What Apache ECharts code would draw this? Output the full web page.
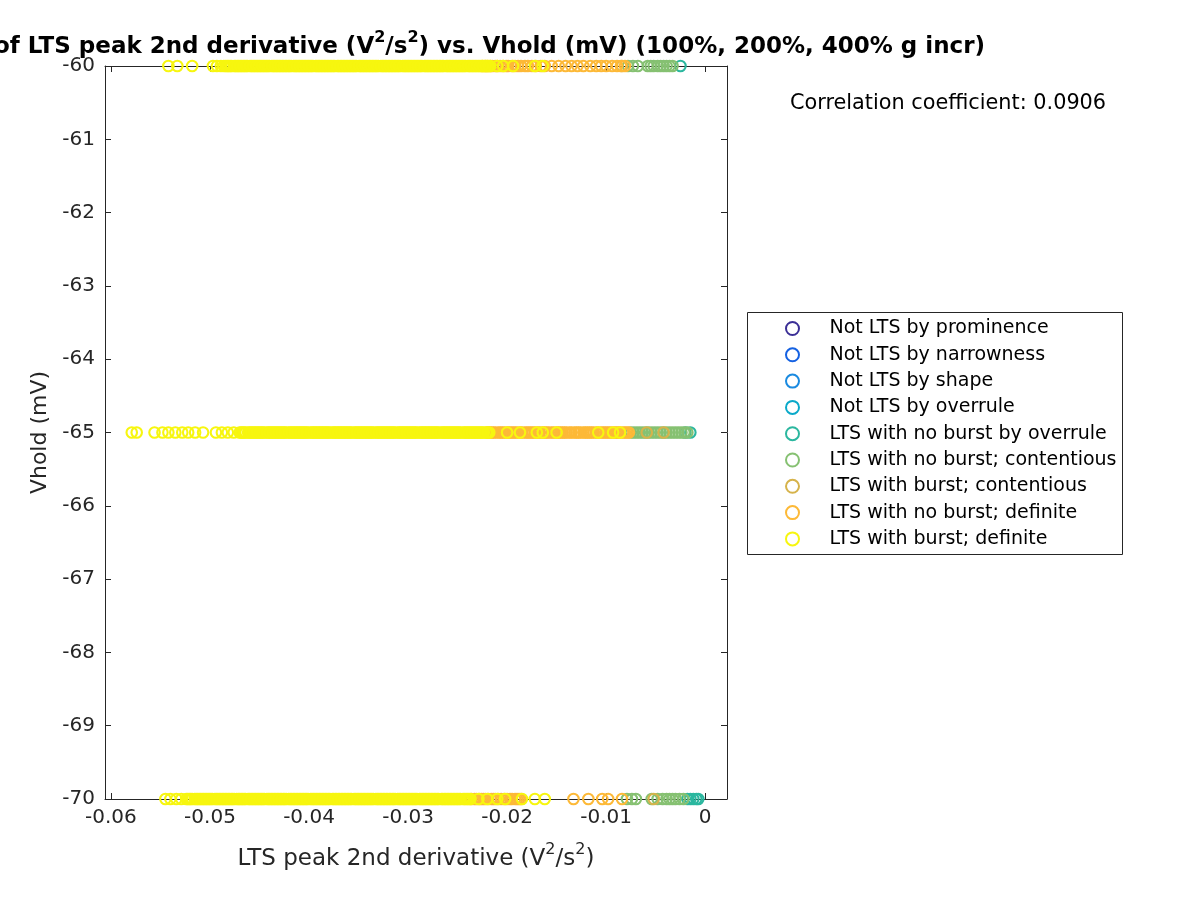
<!DOCTYPE html>
<html>
<head>
<meta charset="utf-8">
<script src="https://cdn.jsdelivr.net/npm/echarts@6/dist/echarts.min.js"></script>
<style>html,body{margin:0;padding:0;background:#fff}#c{width:1200px;height:900px}</style>
</head>
<body>
<div id="c"></div>
<script>
// ---- data ----
const categories = [
  'Not LTS by prominence', 'Not LTS by narrowness', 'Not LTS by shape', 'Not LTS by overrule',
  'LTS with no burst by overrule', 'LTS with no burst; contentious', 'LTS with burst; contentious',
  'LTS with no burst; definite', 'LTS with burst; definite'
];
const colors = ['#3b2f96', '#1461e2', '#1a8ae0', '#0aa9c9', '#2bb79f', '#86c172', '#d6b34b', '#fdb937', '#f7f60f'];
const vholdLevels = [-60, -65, -70];
const xTicks = [-0.06, -0.05, -0.04, -0.03, -0.02, -0.01, 0];
const yTicks = [-70, -69, -68, -67, -66, -65, -64, -63, -62, -61, -60];

// LTS with no burst by overrule
const teal60 = [-0.0025];
const teal65 = [-0.0020, -0.0015];
const teal70 = [-0.0018, -0.0015, -0.0012, -0.0009, -0.0007];
// LTS with no burst; contentious
const green60 = [-0.0078, -0.0073, -0.0068, -0.0058, -0.0055, -0.0052, -0.0048, -0.0045, -0.0042, -0.0039, -0.0036, -0.0033];
const green65 = [-0.0075, -0.0072, -0.0069, -0.0066, -0.0063, -0.0060, -0.0057, -0.0054, -0.0051, -0.0048, -0.0045, -0.0042, -0.0039, -0.0036, -0.0033, -0.0030, -0.0027, -0.0024, -0.0021, -0.0018];
const green70 = [-0.0079, -0.0074, -0.0070, -0.0054, -0.0048, -0.0043, -0.0039, -0.0036, -0.0033, -0.0030, -0.0026, -0.0022];
// LTS with burst; contentious
const khaki60 = [-0.0084];
const khaki65 = [-0.0059, -0.0042];
const khaki70 = [-0.0052];
// LTS with no burst; definite
const orange60 = [-0.0225, -0.0222, -0.0220, -0.0217, -0.0215, -0.0212, -0.0210, -0.0207, -0.0204, -0.0201, -0.0199, -0.0195, -0.0192, -0.0189, -0.0186, -0.0182, -0.0179, -0.0175, -0.0171, -0.0166, -0.0162, -0.0155, -0.0148, -0.0141, -0.0135, -0.0129, -0.0123, -0.0116, -0.0110, -0.0105, -0.0100, -0.0094, -0.0089, -0.0085, -0.0081];
const orange65 = [-0.0220, -0.0218, -0.0216, -0.0214, -0.0212, -0.0209, -0.0207, -0.0205, -0.0203, -0.0200, -0.0198, -0.0196, -0.0194, -0.0192, -0.0190, -0.0187, -0.0185, -0.0182, -0.0180, -0.0178, -0.0176, -0.0174, -0.0172, -0.0169, -0.0167, -0.0164, -0.0162, -0.0160, -0.0158, -0.0155, -0.0153, -0.0150, -0.0148, -0.0146, -0.0144, -0.0142, -0.0140, -0.0137, -0.0135, -0.0132, -0.0130, -0.0128, -0.0126, -0.0123, -0.0121, -0.0119, -0.0117, -0.0115, -0.0113, -0.0110, -0.0108, -0.0105, -0.0103, -0.0101, -0.0099, -0.0097, -0.0095, -0.0092, -0.0090, -0.0088, -0.0086, -0.0083, -0.0081, -0.0079, -0.0077];
const orange70 = [-0.0236, -0.0233, -0.0231, -0.0228, -0.0226, -0.0224, -0.0222, -0.0219, -0.0216, -0.0214, -0.0212, -0.0209, -0.0206, -0.0203, -0.0200, -0.0197, -0.0195, -0.0192, -0.0190, -0.0188, -0.0186, -0.0133, -0.0118, -0.0104, -0.0098, -0.0084];
// LTS with burst; definite
const yellow60 = [-0.0542, -0.0533, -0.0518, -0.0497, -0.0493, -0.0489, -0.0486,
  -0.0484, -0.0481, -0.0478, -0.0474, -0.0471, -0.0468, -0.0465, -0.0462, -0.0458, -0.0455, -0.0452, -0.0449, -0.0446, -0.0443, -0.0440, -0.0436, -0.0433, -0.0430, -0.0427, -0.0424, -0.0421, -0.0418, -0.0414, -0.0411, -0.0408, -0.0405, -0.0402, -0.0399, -0.0396, -0.0392, -0.0389, -0.0386, -0.0383, -0.0380, -0.0377, -0.0374, -0.0370, -0.0367, -0.0364, -0.0361, -0.0358, -0.0355, -0.0352, -0.0348, -0.0345, -0.0342, -0.0339, -0.0336, -0.0333, -0.0330, -0.0326, -0.0323, -0.0320, -0.0317, -0.0314, -0.0311, -0.0308, -0.0304, -0.0301, -0.0298, -0.0295, -0.0292, -0.0289, -0.0286, -0.0282, -0.0279, -0.0276, -0.0273, -0.0270, -0.0267, -0.0264, -0.0260, -0.0257, -0.0254, -0.0251, -0.0248, -0.0245, -0.0242, -0.0238, -0.0235, -0.0232, -0.0229, -0.0226, -0.0223, -0.0220, -0.0217,
  -0.0210, -0.0204, -0.0194, -0.0172, -0.0164];
const yellow65 = [-0.0579, -0.0574, -0.0556, -0.0548, -0.0542, -0.0535, -0.0528, -0.0522, -0.0515, -0.0507, -0.0494, -0.0488, -0.0482, -0.0476,
  -0.0470, -0.0467, -0.0464, -0.0460, -0.0457, -0.0454, -0.0451, -0.0448, -0.0445, -0.0441, -0.0438, -0.0435, -0.0432, -0.0429, -0.0426, -0.0423, -0.0419, -0.0416, -0.0413, -0.0410, -0.0407, -0.0404, -0.0401, -0.0397, -0.0394, -0.0391, -0.0388, -0.0385, -0.0382, -0.0379, -0.0375, -0.0372, -0.0369, -0.0366, -0.0363, -0.0360, -0.0357, -0.0353, -0.0350, -0.0347, -0.0344, -0.0341, -0.0338, -0.0335, -0.0331, -0.0328, -0.0325, -0.0322, -0.0319, -0.0316, -0.0313, -0.0309, -0.0306, -0.0303, -0.0300, -0.0297, -0.0294, -0.0291, -0.0287, -0.0284, -0.0281, -0.0278, -0.0275, -0.0272, -0.0269, -0.0265, -0.0262, -0.0259, -0.0256, -0.0253, -0.0250, -0.0247, -0.0243, -0.0240, -0.0237, -0.0234, -0.0231, -0.0228, -0.0225, -0.0221, -0.0218,
  -0.0200, -0.0187, -0.0170, -0.0164, -0.0150, -0.0108, -0.0093, -0.0086];
const yellow70 = [-0.0545, -0.0540, -0.0534, -0.0529,
  -0.0524, -0.0521, -0.0518, -0.0514, -0.0511, -0.0508, -0.0505, -0.0502, -0.0499, -0.0495, -0.0492, -0.0489, -0.0486, -0.0483, -0.0480, -0.0477, -0.0473,
  -0.0470, -0.0467, -0.0464, -0.0460, -0.0457, -0.0454, -0.0451, -0.0448, -0.0445, -0.0441, -0.0438, -0.0435, -0.0432, -0.0429, -0.0426, -0.0423, -0.0419, -0.0416, -0.0413, -0.0410, -0.0407, -0.0404, -0.0401, -0.0397, -0.0394, -0.0391, -0.0388, -0.0385, -0.0382, -0.0379, -0.0375, -0.0372, -0.0369, -0.0366, -0.0363, -0.0360, -0.0357, -0.0353, -0.0350, -0.0347, -0.0344, -0.0341, -0.0338, -0.0335, -0.0331, -0.0328, -0.0325, -0.0322, -0.0319, -0.0316, -0.0313, -0.0309, -0.0306, -0.0303, -0.0300, -0.0297, -0.0294, -0.0291, -0.0287, -0.0284, -0.0281, -0.0278, -0.0275, -0.0272, -0.0269, -0.0265, -0.0262, -0.0259, -0.0256, -0.0253, -0.0250, -0.0247, -0.0243, -0.0240, -0.0237,
  -0.0229, -0.0220, -0.0210, -0.0202, -0.0185, -0.0172, -0.0162];
// extra points filling the dense yellow bands
const yellow60b = [-0.04825, -0.04795, -0.04755, -0.04725, -0.04695, -0.04665, -0.04635, -0.04595, -0.04565, -0.04535, -0.04505, -0.04475, -0.04445, -0.04415, -0.04375, -0.04345, -0.04315, -0.04285, -0.04255, -0.04225, -0.04195, -0.04155, -0.04125, -0.04095, -0.04065, -0.04035, -0.04005, -0.03975, -0.03935, -0.03905, -0.03875, -0.03845, -0.03815, -0.03785, -0.03755, -0.03715, -0.03685, -0.03655, -0.03625, -0.03595, -0.03565, -0.03535, -0.03495, -0.03465, -0.03435, -0.03405, -0.03375, -0.03345, -0.03315, -0.03275, -0.03245, -0.03215, -0.03185, -0.03155, -0.03125, -0.03095, -0.03055, -0.03025, -0.02995, -0.02965, -0.02935, -0.02905, -0.02875, -0.02835, -0.02805, -0.02775, -0.02745, -0.02715, -0.02685, -0.02655, -0.02615, -0.02585, -0.02555, -0.02525, -0.02495, -0.02465, -0.02435, -0.02395, -0.02365, -0.02335, -0.02305, -0.02275, -0.02245, -0.02215, -0.02185];
const yellow65b = [-0.04685, -0.04655, -0.04615, -0.04585, -0.04555, -0.04525, -0.04495, -0.04465, -0.04425, -0.04395, -0.04365, -0.04335, -0.04305, -0.04275, -0.04245, -0.04205, -0.04175, -0.04145, -0.04115, -0.04085, -0.04055, -0.04025, -0.03985, -0.03955, -0.03925, -0.03895, -0.03865, -0.03835, -0.03805, -0.03765, -0.03735, -0.03705, -0.03675, -0.03645, -0.03615, -0.03585, -0.03545, -0.03515, -0.03485, -0.03455, -0.03425, -0.03395, -0.03365, -0.03325, -0.03295, -0.03265, -0.03235, -0.03205, -0.03175, -0.03145, -0.03105, -0.03075, -0.03045, -0.03015, -0.02985, -0.02955, -0.02925, -0.02885, -0.02855, -0.02825, -0.02795, -0.02765, -0.02735, -0.02705, -0.02665, -0.02635, -0.02605, -0.02575, -0.02545, -0.02515, -0.02485, -0.02445, -0.02415, -0.02385, -0.02355, -0.02325, -0.02295, -0.02265, -0.02235, -0.02195];
const yellow70b = [-0.05225, -0.05195, -0.05155, -0.05125, -0.05095, -0.05065, -0.05035, -0.05005, -0.04975, -0.04935, -0.04905, -0.04875, -0.04845, -0.04815, -0.04785, -0.04755, -0.04715, -0.04685, -0.04655, -0.04615, -0.04585, -0.04555, -0.04525, -0.04495, -0.04465, -0.04425, -0.04395, -0.04365, -0.04335, -0.04305, -0.04275, -0.04245, -0.04205, -0.04175, -0.04145, -0.04115, -0.04085, -0.04055, -0.04025, -0.03985, -0.03955, -0.03925, -0.03895, -0.03865, -0.03835, -0.03805, -0.03765, -0.03735, -0.03705, -0.03675, -0.03645, -0.03615, -0.03585, -0.03545, -0.03515, -0.03485, -0.03455, -0.03425, -0.03395, -0.03365, -0.03325, -0.03295, -0.03265, -0.03235, -0.03205, -0.03175, -0.03145, -0.03105, -0.03075, -0.03045, -0.03015, -0.02985, -0.02955, -0.02925, -0.02885, -0.02855, -0.02825, -0.02795, -0.02765, -0.02735, -0.02705, -0.02665, -0.02635, -0.02605, -0.02575, -0.02545, -0.02515, -0.02485, -0.02445, -0.02415, -0.02385];

const correlationText = 'Correlation coefficient: 0.0906';

// ---- build ----
function pts(xs, y) { return xs.map(x => [x, y]); }
const seriesData = [
  [], [], [], [],
  [].concat(pts(teal60, vholdLevels[0]), pts(teal65, vholdLevels[1]), pts(teal70, vholdLevels[2])),
  [].concat(pts(green60, vholdLevels[0]), pts(green65, vholdLevels[1]), pts(green70, vholdLevels[2])),
  [].concat(pts(khaki60, vholdLevels[0]), pts(khaki65, vholdLevels[1]), pts(khaki70, vholdLevels[2])),
  [].concat(pts(orange60, vholdLevels[0]), pts(orange65, vholdLevels[1]), pts(orange70, vholdLevels[2])),
  [].concat(pts(yellow60, vholdLevels[0]), pts(yellow60b, vholdLevels[0]), pts(yellow65, vholdLevels[1]), pts(yellow65b, vholdLevels[1]), pts(yellow70, vholdLevels[2]), pts(yellow70b, vholdLevels[2]))
];

const axisColor = '#262626';
const FONT = 'DejaVu Sans';
const chart = echarts.init(document.getElementById('c'), null, { renderer: 'canvas' });

const supStyle = (size, bold) => ({ fontSize: size, fontFamily: FONT, fontWeight: bold ? 'bold' : 'normal', color: bold ? '#000' : axisColor, verticalAlign: 'top', lineHeight: size + 2 });
const baseStyle = (size, bold) => ({ fontSize: size, fontFamily: FONT, fontWeight: bold ? 'bold' : 'normal', color: bold ? '#000' : axisColor, verticalAlign: 'bottom', lineHeight: size + 6 });

const fmtX = v => (Math.abs(v) < 1e-12 ? '0' : String(+v.toFixed(2)));

const option = {
  animation: false,
  backgroundColor: '#fff',
  title: {
    text: '{b|of LTS peak 2nd derivative (V}{s|2}{b|/s}{s|2}{b|) vs. Vhold (mV) (100%, 200%, 400% g incr)}',
    right: 210,
    top: 25,
    textStyle: { rich: { b: baseStyle(23, true), s: supStyle(16, true) } }
  },
  grid: { left: 105, top: 66, width: 622, height: 733, containLabel: false },
  xAxis: [{
    type: 'value', min: -0.0606, max: 0.0022, position: 'bottom',
    axisLine: { show: true, onZero: false, lineStyle: { color: axisColor, width: 1 } },
    axisTick: { show: true, inside: true, length: 6, customValues: xTicks, lineStyle: { color: axisColor } },
    axisLabel: { show: true, customValues: xTicks, formatter: fmtX, fontSize: 20, fontFamily: FONT, color: axisColor, margin: 9 },
    splitLine: { show: false },
    name: '{n|LTS peak 2nd derivative (V}{s|2}{n|/s}{s|2}{n|)}',
    nameLocation: 'middle', nameGap: 43,
    nameTextStyle: { rich: { n: baseStyle(23, false), s: supStyle(16, false) } }
  }, {
    type: 'value', min: -0.0606, max: 0.0022, position: 'top',
    axisLine: { show: true, onZero: false, lineStyle: { color: axisColor, width: 1 } },
    axisTick: { show: true, inside: true, length: 6, customValues: xTicks, lineStyle: { color: axisColor } },
    axisLabel: { show: false }, splitLine: { show: false }
  }],
  yAxis: [{
    type: 'value', min: -70, max: -60, interval: 1, position: 'left',
    axisLine: { show: true, onZero: false, lineStyle: { color: axisColor, width: 1 } },
    axisTick: { show: true, inside: true, length: 6, lineStyle: { color: axisColor } },
    axisLabel: { show: true, fontSize: 20, fontFamily: FONT, color: axisColor, margin: 10 },
    splitLine: { show: false },
    name: 'Vhold (mV)', nameLocation: 'middle', nameGap: 54,
    nameTextStyle: { fontSize: 22, fontFamily: FONT, color: axisColor }
  }, {
    type: 'value', min: -70, max: -60, interval: 1, position: 'right',
    axisLine: { show: true, onZero: false, lineStyle: { color: axisColor, width: 1 } },
    axisTick: { show: true, inside: true, length: 6, lineStyle: { color: axisColor } },
    axisLabel: { show: false }, splitLine: { show: false }
  }],
  legend: {
    orient: 'vertical', left: 785, top: 319, padding: 0,
    itemWidth: 64, itemHeight: 13, itemGap: 7.3,
    icon: 'circle',
    selectedMode: false,
    textStyle: { fontSize: 19, fontFamily: FONT, color: '#000', lineHeight: 18 },
    data: categories.map((c, i) => ({ name: c, itemStyle: { color: 'rgba(0,0,0,0)', borderColor: colors[i], borderWidth: 2 } }))
  },
  graphic: [
    { type: 'rect', shape: { x: 747.5, y: 312.5, width: 375, height: 242 }, style: { fill: 'none', stroke: axisColor, lineWidth: 1 }, silent: true },
    { type: 'text', x: 790, y: 104, style: { text: correlationText, fontSize: 20.8, fontFamily: FONT, fill: '#000', verticalAlign: 'middle', textAlign: 'left' }, silent: true }
  ],
  series: categories.map((c, i) => ({
    name: c, type: 'scatter', xAxisIndex: 0, yAxisIndex: 0,
    symbol: 'circle', symbolSize: 10.5,
    itemStyle: { color: 'rgba(0,0,0,0)', borderColor: colors[i], borderWidth: 2.1, opacity: 1 },
    emphasis: { disabled: true },
    clip: false,
    data: seriesData[i]
  }))
};
chart.setOption(option);
</script>
</body>
</html>
